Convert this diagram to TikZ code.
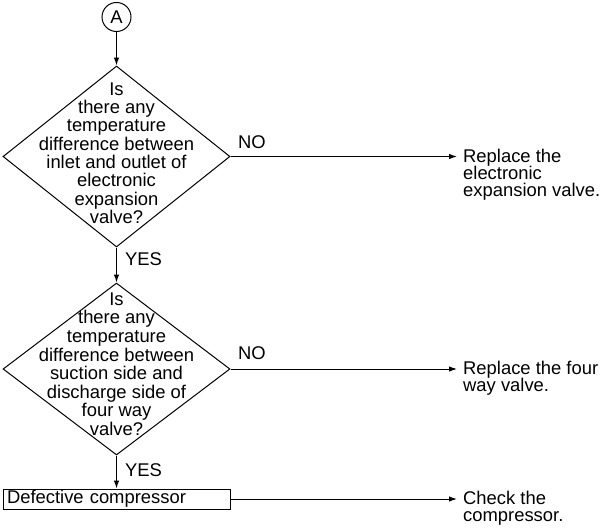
\documentclass[tikz,border=0pt]{standalone}
\usepackage{fontspec}
\setmainfont{Liberation Sans}
\usetikzlibrary{shapes.geometric,arrows.meta}
\begin{document}
\begin{tikzpicture}[x=1pt,y=-1pt,
  every node/.style={font=\fontsize{18.4}{18.3}\selectfont, inner sep=0pt},
  shape line/.style={draw, line width=1pt},
  link/.style={line width=1pt, -{Latex[length=8pt,width=5.5pt]}},
  decision/.style={shape line, diamond, minimum width=227pt},
  action/.style={align=left, anchor=north west, font=\fontsize{18.4}{17.2}\selectfont},
  tag/.style={anchor=base west}]
\useasboundingbox (0,0) rectangle (600,530);

% connector A
\node[shape line, circle, minimum size=29pt] (a) at (116.5,17) {A};

% first check
\node[decision, minimum height=181pt] (d1) at (116.5,156.5) {};
\node[align=center, anchor=north] (q1) at (116.5,82.5)
  {Is\\there any\\temperature\\difference between\\inlet and outlet of\\electronic\\expansion\\valve?};

% second check
\node[decision, minimum height=172pt] (d2) at (116.5,369) {};
\node[align=center, anchor=north, font=\fontsize{18.4}{18.6}\selectfont] (q2) at (116.5,292.5)
  {Is\\there any\\temperature\\difference between\\suction side and\\discharge side of\\four way\\valve?};

% result box
\node[shape line, minimum width=227pt, minimum height=20pt, text width=219pt,
      inner xsep=4pt, align=left] (box) at (116.5,499) {Defective compressor};

% actions
\node[action] (r1) at (463,148.5) {Replace the\\electronic\\expansion valve.};
\node[action] (r2) at (463,361) {Replace the four\\way valve.};
\node[action] (r3) at (463,491) {Check the\\compressor.};

% labels
\node[tag] (no1) at (238,148) {NO};
\node[tag] (no2) at (238,359.5) {NO};
\node[tag] (yes1) at (125,265.5) {YES};
\node[tag] (yes2) at (125,476.5) {YES};

% flow
\draw[link] (a.south) -- (d1.north);
\draw[link] (d1.south) -- (d2.north);
\draw[link] (d2.south) -- (box.north);
\draw[link, shorten >=6pt] (d1.east) -- (r1.west |- d1.east);
\draw[link, shorten >=6pt] (d2.east) -- (r2.west |- d2.east);
\draw[link, shorten >=6pt] (box.east) -- (r3.west |- box.east);
\end{tikzpicture}
\end{document}
